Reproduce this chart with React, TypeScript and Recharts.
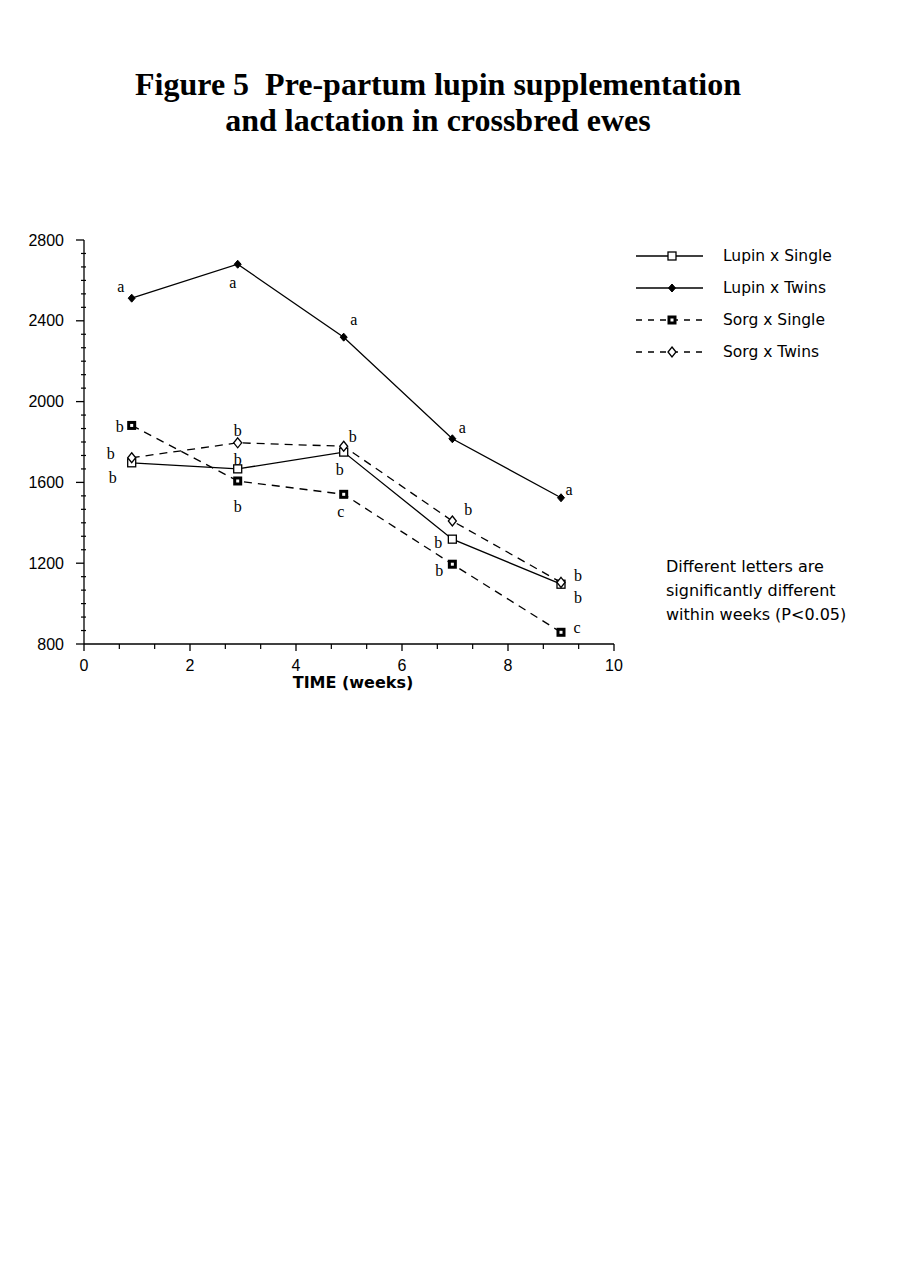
import React from 'react';
import { LineChart, Line, XAxis, YAxis } from 'recharts';

const weeks = [0.9, 2.9, 4.9, 6.95, 9.0];
const lupinSingle = [1697, 1667, 1750, 1319, 1096];
const lupinTwins = [2512, 2680, 2319, 1816, 1524];
const sorgSingle = [1882, 1607, 1541, 1195, 858];
const sorgTwins = [1722, 1796, 1779, 1409, 1105];

const lupinSingleLetters = ['b', 'b', 'b', 'b', 'b'];
const lupinTwinsLetters = ['a', 'a', 'a', 'a', 'a'];
const sorgSingleLetters = ['b', 'b', 'c', 'b', 'c'];
const sorgTwinsLetters = ['b', 'b', 'b', 'b', 'b'];

const seriesNames = ['Lupin x Single', 'Lupin x Twins', 'Sorg x Single', 'Sorg x Twins'];
const yMajorTicks = [800, 1200, 1600, 2000, 2400, 2800];
const xMajorTicks = [0, 2, 4, 6, 8, 10];
const noteLines = ['Different letters are', 'significantly different', 'within weeks (P<0.05)'];

// label offsets (px) relative to each point — styling only
const offLS = [[-19, 15], [0, -9], [-4, 17], [-14, 3], [17, 13]];
const offLT = [[-11, -12], [-5, 18], [10, -18], [10, -11], [8, -8]];
const offSS = [[-12, 1], [0, 26], [-3, 17], [-13, 6], [16, -5]];
const offST = [[-21, -4], [0, -12], [9, -10], [16, -11], [17, -7]];

const data = weeks.map((w, i) => ({
  week: w,
  ls: lupinSingle[i],
  lt: lupinTwins[i],
  ss: sorgSingle[i],
  st: sorgTwins[i],
}));

const yTicks: number[] = [];
for (let i = 0; i < yMajorTicks.length - 1; i++) {
  for (let k = 0; k < 6; k++) yTicks.push(yMajorTicks[i] + ((yMajorTicks[i + 1] - yMajorTicks[i]) * k) / 6);
}
yTicks.push(yMajorTicks[yMajorTicks.length - 1]);
const xTicks: number[] = [];
for (let i = 0; i < xMajorTicks.length - 1; i++) {
  for (let k = 0; k < 3; k++) xTicks.push(xMajorTicks[i] + ((xMajorTicks[i + 1] - xMajorTicks[i]) * k) / 3);
}
xTicks.push(xMajorTicks[xMajorTicks.length - 1]);

const isMajor = (v: number, list: number[]) => list.some((m) => Math.abs(m - v) < 1e-6);

const YTick = (p: any) => {
  const { x, y, payload } = p;
  const v = payload.value;
  if (isMajor(v, yMajorTicks)) {
    return (
      <g>
        <line x1={x - 8} y1={y} x2={x} y2={y} stroke="#000" strokeWidth={1.3} />
        <text x={x - 20} y={y} textAnchor="end" dominantBaseline="central" fontFamily="Liberation Sans, Arial" fontSize={16} fill="#000">
          {v}
        </text>
      </g>
    );
  }
  return <line x1={x - 3} y1={y} x2={x + 2} y2={y} stroke="#000" strokeWidth={1.2} />;
};

const XTick = (p: any) => {
  const { x, y, payload } = p;
  const v = payload.value;
  if (isMajor(v, xMajorTicks)) {
    return (
      <g>
        <line x1={x} y1={y} x2={x} y2={y + 7} stroke="#000" strokeWidth={1.3} />
        <text x={x} y={y + 21} textAnchor="middle" dominantBaseline="central" fontFamily="Liberation Sans, Arial" fontSize={16} fill="#000">
          {Math.round(v)}
        </text>
      </g>
    );
  }
  return <line x1={x} y1={y} x2={x} y2={y + 5} stroke="#000" strokeWidth={1.2} />;
};

const Marker = ({ kind, cx, cy }: { kind: string; cx: number; cy: number }) => {
  if (kind === 'ls') return <rect x={cx - 4} y={cy - 4} width={8} height={8} fill="#fff" stroke="#000" strokeWidth={1.3} />;
  if (kind === 'lt') return <path d={`M${cx} ${cy - 4}L${cx + 3.5} ${cy}L${cx} ${cy + 4}L${cx - 3.5} ${cy}Z`} fill="#000" stroke="#000" />;
  if (kind === 'ss')
    return (
      <g>
        <rect x={cx - 4.5} y={cy - 4.5} width={9} height={9} fill="#000" />
        <rect x={cx - 1.5} y={cy - 1.5} width={3} height={3} fill="#fff" />
      </g>
    );
  return <path d={`M${cx} ${cy - 5}L${cx + 4} ${cy}L${cx} ${cy + 5}L${cx - 4} ${cy}Z`} fill="#fff" stroke="#000" strokeWidth={1.3} />;
};

const makeDot = (kind: string) => (p: any) => <Marker key={`${kind}-${p.index}`} kind={kind} cx={p.cx} cy={p.cy} />;

const makeLabel = (letters: string[], offs: number[][], kind: string) => (p: any) => {
  const i = p.index;
  return (
    <text
      key={`lab-${kind}-${i}`}
      x={p.x + offs[i][0]}
      y={p.y + offs[i][1]}
      textAnchor="middle"
      dominantBaseline="central"
      fontFamily="Liberation Serif, Times New Roman, serif"
      fontSize={16}
      fill="#000"
    >
      {letters[i]}
    </text>
  );
};

const legendKinds = ['ls', 'lt', 'ss', 'st'];

const LegendBox = () => (
  <svg width={250} height={130} style={{ position: 'absolute', left: 635, top: 245 }}>
    {seriesNames.map((n, i) => {
      const y = 11 + i * 32;
      const dashed = i >= 2;
      return (
        <g key={n}>
          <line x1={1} y1={y} x2={68} y2={y} stroke="#000" strokeWidth={1.3} strokeDasharray={dashed ? '6 6' : undefined} />
          <Marker kind={legendKinds[i]} cx={37} cy={y} />
          <text x={88} y={y} dominantBaseline="central" fontFamily="DejaVu Sans, Verdana" fontSize={15.5} fill="#000">
            {n}
          </text>
        </g>
      );
    })}
  </svg>
);

export default function App() {
  return (
    <div style={{ position: 'absolute', left: 0, top: 0, width: 900, height: 1279, background: '#fff' }}>
      <div
        style={{
          position: 'absolute',
          left: 0,
          top: 66,
          width: 876,
          textAlign: 'center',
          fontFamily: 'Liberation Serif, Times New Roman, serif',
          fontWeight: 'bold',
          fontSize: 32,
          lineHeight: '36px',
          color: '#000',
        }}
      >
        <div>Figure 5&nbsp; Pre-partum lupin supplementation</div>
        <div>and lactation in crossbred ewes</div>
      </div>
      <div style={{ position: 'absolute', left: 0, top: 0 }}>
        <LineChart width={900} height={760} data={data} margin={{ top: 240, right: 286, bottom: 86, left: 24 }}>
          <XAxis
            dataKey="week"
            type="number"
            domain={[0, 10]}
            ticks={xTicks}
            interval={0}
            tick={<XTick />}
            tickLine={false}
            tickSize={0}
            tickMargin={0}
            height={30}
            axisLine={{ stroke: '#000', strokeWidth: 1.3 }}
          />
          <YAxis
            type="number"
            domain={[800, 2800]}
            ticks={yTicks}
            interval={0}
            tick={<YTick />}
            tickLine={false}
            tickSize={0}
            tickMargin={0}
            width={60}
            axisLine={{ stroke: '#000', strokeWidth: 1.3 }}
          />
          <Line dataKey="ls" name={seriesNames[0]} stroke="#000" strokeWidth={1.3} dot={makeDot('ls')} label={makeLabel(lupinSingleLetters, offLS, 'ls')} isAnimationActive={false} />
          <Line dataKey="lt" name={seriesNames[1]} stroke="#000" strokeWidth={1.3} dot={makeDot('lt')} label={makeLabel(lupinTwinsLetters, offLT, 'lt')} isAnimationActive={false} />
          <Line dataKey="ss" name={seriesNames[2]} stroke="#000" strokeWidth={1.3} strokeDasharray="8 6" dot={makeDot('ss')} label={makeLabel(sorgSingleLetters, offSS, 'ss')} isAnimationActive={false} />
          <Line dataKey="st" name={seriesNames[3]} stroke="#000" strokeWidth={1.3} strokeDasharray="8 6" dot={makeDot('st')} label={makeLabel(sorgTwinsLetters, offST, 'st')} isAnimationActive={false} />
        </LineChart>
      </div>
      <LegendBox />
      <div
        style={{
          position: 'absolute',
          left: 283,
          top: 674,
          width: 140,
          textAlign: 'center',
          fontFamily: 'DejaVu Sans, Verdana',
          fontWeight: 'bold',
          fontSize: 16,
          lineHeight: '18px',
          color: '#000',
          whiteSpace: 'nowrap',
        }}
      >
        TIME (weeks)
      </div>
      <div
        style={{
          position: 'absolute',
          left: 666,
          top: 555,
          fontFamily: 'DejaVu Sans, Verdana',
          fontSize: 16,
          lineHeight: '24px',
          color: '#000',
          whiteSpace: 'nowrap',
        }}
      >
        {noteLines.map((l) => (
          <div key={l}>{l}</div>
        ))}
      </div>
    </div>
  );
}
